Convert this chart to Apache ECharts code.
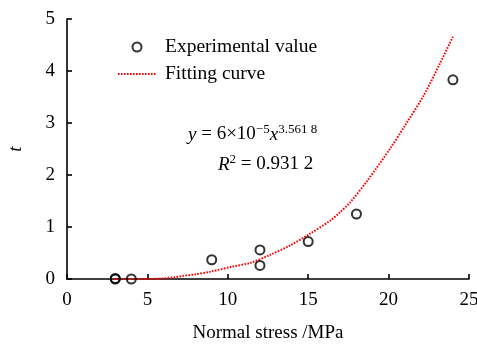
<!DOCTYPE html>
<html>
<head>
<meta charset="utf-8">
<script src="https://cdn.jsdelivr.net/npm/echarts@6/dist/echarts.min.js"></script>
<style>
  html, body { margin: 0; padding: 0; background: #fff; }
  #chart { width: 477px; height: 345px; }
</style>
</head>
<body>
<div id="chart"></div>
<script>
// experimental points (normal stress MPa, t)
const expX = [3, 3, 4, 9, 12, 12, 15, 18, 24]
const expY = [0, 0.01, 0, 0.37, 0.56, 0.26, 0.72, 1.25, 3.83]

// fitting curve
const fitX = [2.9, 4, 5, 5.9, 6.6, 7.2, 8, 8.9, 10.3, 11.4, 12.6, 13.9, 15, 16.4, 17, 17.6, 18.7, 20.1, 21.1, 22.2, 23.2, 24]
const fitY = [0, 0, 0, 0.01, 0.03, 0.06, 0.09, 0.14, 0.24, 0.31, 0.46, 0.65, 0.85, 1.13, 1.29, 1.47, 1.9, 2.51, 2.99, 3.54, 4.15, 4.66]

const FONT = '"Liberation Serif", "Times New Roman", serif'

const chart = echarts.init(document.getElementById('chart'))

const axisCommon = {
  axisLine: { show: true, lineStyle: { color: '#000', width: 1.6 } },
  axisTick: { show: true, inside: true, length: 5, lineStyle: { color: '#000', width: 1.6 } },
  splitLine: { show: false },
  axisLabel: { color: '#000', fontFamily: FONT, fontSize: 19, margin: 12 },
  nameTextStyle: { color: '#000', fontFamily: FONT, fontSize: 19 },
}

const richText = {
  i: { fontStyle: 'italic', fontSize: 19, fontFamily: FONT },
  s: { fontSize: 13, fontFamily: FONT, verticalAlign: 'top', padding: [0, 0, 10, 0] },
}

chart.setOption({
  animation: false,
  backgroundColor: '#fff',
  grid: { left: 67, right: 8, top: 19, bottom: 66, outerBoundsMode: 'none' },
  legend: {
    orient: 'vertical',
    left: 117,
    top: 37,
    padding: 0,
    itemWidth: 38,
    itemHeight: 9,
    itemGap: 7,
    textStyle: { color: '#000', fontFamily: FONT, fontSize: 19.5, padding: [0, 0, 0, 4] },
    data: [
      { name: 'Experimental value' },
      { name: 'Fitting curve', itemStyle: { opacity: 0 } },
    ],
  },
  xAxis: {
    ...axisCommon,
    type: 'value',
    min: 0, max: 25, interval: 5,
    name: 'Normal stress /MPa',
    nameLocation: 'middle',
    nameGap: 45,
  },
  yAxis: {
    ...axisCommon,
    type: 'value',
    min: 0, max: 5, interval: 1,
    name: 't',
    nameLocation: 'middle',
    nameGap: 42,
    nameRotate: 90,
    nameTextStyle: { ...axisCommon.nameTextStyle, fontStyle: 'italic' },
  },
  graphic: [
    {
      type: 'text',
      left: 188,
      top: 123,
      style: { text: '{i|y} = 6×10{s|−5}{i|x}{s|3.561 8}', font: '19px ' + FONT, fill: '#000', rich: richText },
    },
    {
      type: 'text',
      left: 218,
      top: 153,
      style: { text: '{i|R}{s|2} = 0.931 2', font: '19px ' + FONT, fill: '#000', rich: richText },
    },
  ],
  series: [
    {
      name: 'Fitting curve',
      type: 'line',
      data: fitX.map((x, i) => [x, fitY[i]]),
      symbol: 'none',
      smooth: 0.3,
      lineStyle: { color: '#ff0000', width: 2, type: [1.6, 1.4] },
      itemStyle: { color: '#ff0000' },
      z: 2,
    },
    {
      name: 'Experimental value',
      type: 'scatter',
      data: expX.map((x, i) => [x, expY[i]]),
      symbol: 'circle',
      symbolSize: 9,
      itemStyle: { color: 'rgba(255,255,255,0)', borderColor: '#000', borderWidth: 2 },
      z: 3,
    },
  ],
})
</script>
</body>
</html>
